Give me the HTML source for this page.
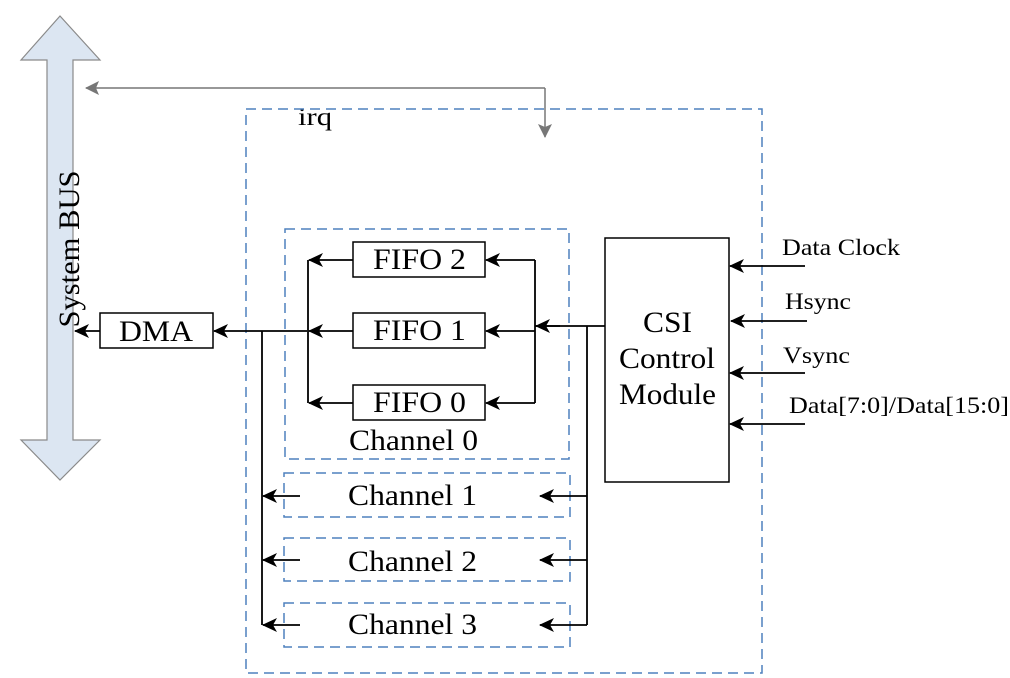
<!DOCTYPE html>
<html><head><meta charset="utf-8"><style>
html,body{margin:0;padding:0;background:#fff;}
svg{display:block;font-family:"Liberation Serif",serif;}
</style></head><body>
<svg width="1010" height="678" viewBox="0 0 1010 678" xmlns="http://www.w3.org/2000/svg">
<defs>
<marker id="a" markerWidth="15" markerHeight="14" refX="14" refY="7" orient="auto" markerUnits="userSpaceOnUse"><path d="M0,0 L15,7 L0,14 L4,7 z" fill="#000"/></marker>
<marker id="g" markerWidth="14" markerHeight="14" refX="13" refY="7" orient="auto" markerUnits="userSpaceOnUse"><path d="M0,0 L14,7 L0,14 L3,7 z" fill="#777"/></marker>
</defs>
<path d="M60,16 L100,60 L73,60 L73,440 L100,440 L60,480 L21,440 L47,440 L47,60 L21,60 Z" fill="#dce6f2" stroke="#8a8a8a" stroke-width="1.2"/>
<text x="0" y="0" font-size="30" text-anchor="middle" textLength="157" lengthAdjust="spacingAndGlyphs" transform="translate(79,249) rotate(-90)">System BUS</text>
<line x1="545" y1="88" x2="86" y2="88" stroke="#777" stroke-width="1.5" marker-end="url(#g)"/>
<line x1="545" y1="88" x2="545" y2="137" stroke="#777" stroke-width="1.5" marker-end="url(#g)"/>
<text x="298" y="125" font-size="25" textLength="34" lengthAdjust="spacingAndGlyphs">irq</text>
<g fill="none" stroke="#4f81bd" stroke-width="1.5" stroke-dasharray="10,6">
<rect x="246" y="109" width="516" height="564"/>
<rect x="285" y="229" width="284" height="230"/>
<rect x="284" y="473" width="286" height="44"/>
<rect x="284" y="538" width="286" height="43"/>
<rect x="284" y="603" width="286" height="44"/>
</g>
<g fill="#fff" stroke="#000" stroke-width="1.5">
<rect x="100" y="313" width="113" height="35"/>
<rect x="353" y="242" width="132" height="35"/>
<rect x="353" y="313" width="132" height="35"/>
<rect x="353" y="385" width="132" height="35"/>
<rect x="605" y="238" width="124" height="244"/>
</g>
<g font-size="30" lengthAdjust="spacingAndGlyphs">
<text x="119" y="341" textLength="74" lengthAdjust="spacingAndGlyphs">DMA</text>
<text x="373" y="269" textLength="93" lengthAdjust="spacingAndGlyphs">FIFO 2</text>
<text x="373" y="340" textLength="93" lengthAdjust="spacingAndGlyphs">FIFO 1</text>
<text x="373" y="412" textLength="93" lengthAdjust="spacingAndGlyphs">FIFO 0</text>
<text x="349" y="450" textLength="129" lengthAdjust="spacingAndGlyphs">Channel 0</text>
<text x="348" y="505" textLength="129" lengthAdjust="spacingAndGlyphs">Channel 1</text>
<text x="348" y="571" textLength="129" lengthAdjust="spacingAndGlyphs">Channel 2</text>
<text x="348" y="634" textLength="129" lengthAdjust="spacingAndGlyphs">Channel 3</text>
<text x="643" y="332" textLength="49" lengthAdjust="spacingAndGlyphs">CSI</text>
<text x="619" y="368" textLength="96" lengthAdjust="spacingAndGlyphs">Control</text>
<text x="619" y="404" textLength="97" lengthAdjust="spacingAndGlyphs">Module</text>
</g>
<g stroke="#000" stroke-width="1.8" fill="none">
<line x1="100" y1="331" x2="75" y2="331" marker-end="url(#a)"/>
<line x1="605" y1="326" x2="535" y2="326"/>
<line x1="307" y1="331" x2="214" y2="331" marker-end="url(#a)"/>
<line x1="587" y1="326" x2="587" y2="625"/>
<line x1="262" y1="331" x2="262" y2="625"/>
<line x1="353" y1="260" x2="309" y2="260" marker-end="url(#a)"/>
<line x1="353" y1="331" x2="309" y2="331" marker-end="url(#a)"/>
<line x1="353" y1="403" x2="309" y2="403" marker-end="url(#a)"/>
<line x1="308" y1="260" x2="308" y2="403"/>
<line x1="535" y1="260" x2="535" y2="403"/>
<line x1="535" y1="260" x2="486" y2="260" marker-end="url(#a)"/>
<line x1="535" y1="331" x2="486" y2="331" marker-end="url(#a)"/>
<line x1="535" y1="403" x2="486" y2="403" marker-end="url(#a)"/>
<line x1="560" y1="326" x2="536" y2="326" marker-end="url(#a)"/>
<line x1="300" y1="496" x2="263" y2="496" marker-end="url(#a)"/>
<line x1="300" y1="560" x2="263" y2="560" marker-end="url(#a)"/>
<line x1="300" y1="625" x2="263" y2="625" marker-end="url(#a)"/>
<line x1="587" y1="496" x2="540" y2="496" marker-end="url(#a)"/>
<line x1="587" y1="560" x2="540" y2="560" marker-end="url(#a)"/>
<line x1="587" y1="625" x2="540" y2="625" marker-end="url(#a)"/>
<line x1="805" y1="266" x2="730" y2="266" marker-end="url(#a)"/>
<line x1="807" y1="321" x2="731" y2="321" marker-end="url(#a)"/>
<line x1="805" y1="373" x2="730" y2="373" marker-end="url(#a)"/>
<line x1="805" y1="424" x2="730" y2="424" marker-end="url(#a)"/>
</g>
<g font-size="23">
<text x="782" y="255" textLength="118" lengthAdjust="spacingAndGlyphs">Data Clock</text>
<text x="785" y="309" textLength="66" lengthAdjust="spacingAndGlyphs">Hsync</text>
<text x="783" y="363" textLength="67" lengthAdjust="spacingAndGlyphs">Vsync</text>
<text x="789" y="413" textLength="220" lengthAdjust="spacingAndGlyphs">Data[7:0]/Data[15:0]</text>
</g>
</svg>
</body></html>
